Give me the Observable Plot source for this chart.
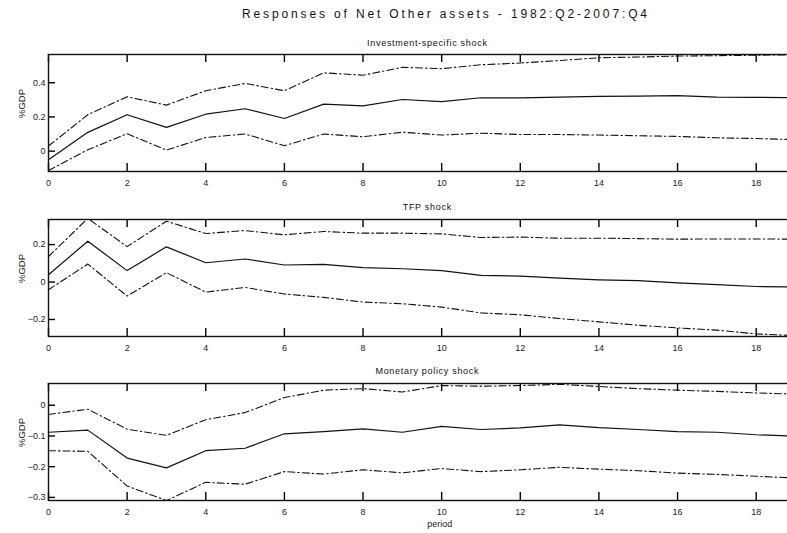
<!DOCTYPE html>
<html>
<head>
<meta charset="utf-8">
<script src="https://cdn.jsdelivr.net/npm/d3@7"></script>
<script src="https://cdn.jsdelivr.net/npm/@observablehq/plot@0.6"></script>
<style>
  html, body { margin: 0; padding: 0; background: #fff; }
  #root { position: relative; display: flow-root; width: 787px; height: 533px; font-family: "Liberation Sans", Arial, sans-serif; }
  .t { position: absolute; white-space: pre; text-align: center; line-height: 1; color: #111; }
  #root svg { display: block; }
</style>
</head>
<body>
<div id="root"></div>
<script>
const mainTitle = "Responses of Net Other assets - 1982:Q2-2007:Q4";
const panelTitles = ["Investment-specific shock", "TFP shock", "Monetary policy shock"];
const yLabel = "%GDP";
const xLabel = "period";
const periods = [0,1,2,3,4,5,6,7,8,9,10,11,12,13,14,15,16,17,18,19];
const xTicks = [0,2,4,6,8,10,12,14,16,18];

// Investment-specific shock
const invMid   = [-0.05,0.11,0.213,0.139,0.216,0.248,0.191,0.275,0.265,0.302,0.29,0.312,0.312,0.316,0.32,0.322,0.324,0.316,0.314,0.313];
const invUpper = [0.03,0.213,0.318,0.269,0.353,0.396,0.353,0.458,0.444,0.49,0.482,0.505,0.515,0.53,0.546,0.55,0.556,0.558,0.561,0.563];
const invLower = [-0.113,0.008,0.102,0.006,0.08,0.1,0.032,0.1,0.084,0.111,0.094,0.105,0.097,0.097,0.094,0.09,0.086,0.078,0.074,0.067];
const invYTicks = [0,0.2,0.4];

// TFP shock
const tfpMid   = [0.039,0.218,0.061,0.188,0.103,0.123,0.091,0.094,0.077,0.071,0.061,0.036,0.032,0.021,0.012,0.007,-0.005,-0.014,-0.024,-0.027];
const tfpUpper = [0.136,0.34,0.189,0.325,0.259,0.275,0.252,0.27,0.261,0.261,0.257,0.238,0.24,0.234,0.234,0.232,0.229,0.23,0.23,0.229];
const tfpLower = [-0.041,0.096,-0.075,0.05,-0.054,-0.029,-0.064,-0.082,-0.107,-0.116,-0.134,-0.165,-0.175,-0.195,-0.213,-0.231,-0.245,-0.257,-0.277,-0.286];
const tfpYTicks = [-0.2,0,0.2];

// Monetary policy shock
const monMid   = [-0.088,-0.081,-0.172,-0.204,-0.148,-0.14,-0.093,-0.086,-0.077,-0.088,-0.069,-0.079,-0.074,-0.064,-0.073,-0.079,-0.086,-0.088,-0.096,-0.101];
const monUpper = [-0.03,-0.013,-0.078,-0.098,-0.047,-0.024,0.025,0.049,0.054,0.043,0.064,0.062,0.064,0.068,0.061,0.054,0.049,0.045,0.04,0.036];
const monLower = [-0.148,-0.15,-0.263,-0.31,-0.251,-0.257,-0.216,-0.224,-0.21,-0.22,-0.206,-0.216,-0.21,-0.202,-0.208,-0.213,-0.221,-0.225,-0.231,-0.237];
const monYTicks = [-0.3,-0.2,-0.1,0];

const panels = [
  {title: panelTitles[0], mid: invMid, upper: invUpper, lower: invLower, yTicks: invYTicks, yDomain: [-0.119, 0.565], top: 44, height: 147, marginBottom: 20, titleTop: 38.5},
  {title: panelTitles[1], mid: tfpMid, upper: tfpUpper, lower: tfpLower, yTicks: tfpYTicks, yDomain: [-0.291, 0.334], top: 209, height: 147, marginBottom: 20, titleTop: 203},
  {title: panelTitles[2], mid: monMid, upper: monUpper, lower: monLower, yTicks: monYTicks, yDomain: [-0.31, 0.0707], top: 373, height: 160, marginBottom: 33, titleTop: 367}
];

const root = document.getElementById("root");
const FONT = "Liberation Sans, Arial, sans-serif";

function measure(text, size) {
  const c = document.createElement("canvas").getContext("2d");
  c.font = `${size}px "Liberation Sans", Arial, sans-serif`;
  return c.measureText(text).width;
}

function addText(text, {size, centerX, top, targetWidth, spacing}) {
  const d = document.createElement("div");
  d.className = "t";
  d.textContent = text;
  d.style.fontSize = size + "px";
  let ls = spacing || 0;
  if (targetWidth) ls = (targetWidth - measure(text, size)) / (text.length - 1);
  d.style.letterSpacing = ls + "px";
  const w = measure(text, size) + ls * (text.length - 1);
  d.style.left = (centerX - w / 2) + "px";
  d.style.top = top + "px";
  root.appendChild(d);
}

const dash = "7,3,1.5,3";
const W = 787, ML = 48, MR = -8, MT = 10;
const innerW = W - ML - MR;

let flowY = 0;
panels.forEach((p, idx) => {
  const innerH = p.height - MT - p.marginBottom;
  const rows = periods.map((x, i) => ({x, mid: p.mid[i], upper: p.upper[i], lower: p.lower[i]}));
  const marks = [
    Plot.line(rows, {x: "x", y: "upper", stroke: "#111", strokeWidth: 1.1, strokeDasharray: dash, clip: true}),
    Plot.line(rows, {x: "x", y: "lower", stroke: "#111", strokeWidth: 1.1, strokeDasharray: dash, clip: true}),
    Plot.line(rows, {x: "x", y: "mid", stroke: "#111", strokeWidth: 1.2, clip: true}),
    // inward ticks on all four sides of the frame
    Plot.tickX(xTicks, {x: d => d, insetTop: innerH - 8, stroke: "#000", strokeWidth: 1.4}),
    Plot.tickX(xTicks, {x: d => d, insetBottom: innerH - 8, stroke: "#000", strokeWidth: 1.4}),
    Plot.tickY(p.yTicks, {y: d => d, insetRight: innerW - 7, stroke: "#000", strokeWidth: 1.4}),
    Plot.tickY(p.yTicks, {y: d => d, insetLeft: innerW - 7, stroke: "#000", strokeWidth: 1.4}),
    // tick labels
    Plot.axisX(xTicks, {anchor: "bottom", tickSize: 0, tickPadding: 8.5, fill: "#222", label: null}),
    Plot.axisY(p.yTicks, {anchor: "left", tickSize: 0, tickPadding: 3, fill: "#222", label: null, tickFormat: d => d === 0 ? "0" : d3.format(".1f")(d)}),
    Plot.text([yLabel], {frameAnchor: "left", dx: -27, dy: 5, rotate: -90, fill: "#222", fontSize: 9.5}),
    Plot.frame({stroke: "#111", strokeWidth: 1.4})
  ];
  if (idx === 2) {
    marks.push(Plot.text([xLabel], {frameAnchor: "bottom", x: 9.95, dy: 26, fill: "#222", fontSize: 9}));
  }
  const svg = Plot.plot({
    width: W,
    height: p.height,
    marginLeft: ML,
    marginRight: MR,
    marginTop: MT,
    marginBottom: p.marginBottom,
    style: {fontFamily: FONT, fontSize: "9px"},
    x: {domain: [0, 19], label: null},
    y: {domain: p.yDomain, label: null},
    marks
  });
  svg.style.marginTop = (p.top - flowY) + "px";
  flowY = p.top + p.height;
  root.appendChild(svg);
});

addText(mainTitle, {size: 12, centerX: 444.5, top: 8.3, targetWidth: 405});
panels.forEach(p => addText(p.title, {size: 9, centerX: 427, top: p.titleTop, spacing: 0.7}));
</script>
</body>
</html>
